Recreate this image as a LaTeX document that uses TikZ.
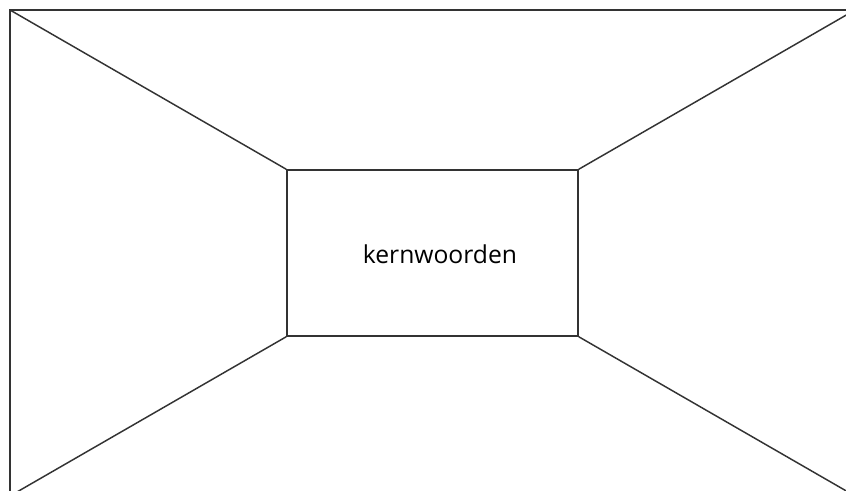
\documentclass[tikz,border=0pt]{standalone}
\usepackage{fontspec}
\setmainfont{Open Sans}
\usetikzlibrary{positioning}

\tikzset{
  wand/.style={draw=black!80,line width=1.1pt},
  kernvak/.style={wand,rectangle,inner sep=0pt,minimum width=291*0.75pt,minimum height=166*0.75pt},
  woordtekst/.style={inner sep=0pt,font=\fontsize{18.5}{22}\selectfont}
}

\begin{document}
\begin{tikzpicture}[x=0.75pt,y=-0.75pt]
\useasboundingbox[clip] (0,0) rectangle (846,491);
\fill[white] (0,0) rectangle (846,491);
% outer frame (right and bottom fall outside the page)
\coordinate (lb) at (10,10);
\coordinate (rb) at (855,10);
\coordinate (ro) at (855,496);
\coordinate (lo) at (10,496);
\draw[wand] (lb) -- (rb) -- (ro) -- (lo) -- cycle;
% middle box
\node[kernvak] (kern) at (432.5,253) {};
\node[woordtekst] (woord) at ([xshift=5.6pt,yshift=-0.8pt]kern.center) {kernwoorden};
\draw[wand] (lb) -- (kern.north west);
\draw[wand] (rb) -- (kern.north east);
\draw[wand] (ro) -- (kern.south east);
\draw[wand] (lo) -- (kern.south west);
\end{tikzpicture}
\end{document}
